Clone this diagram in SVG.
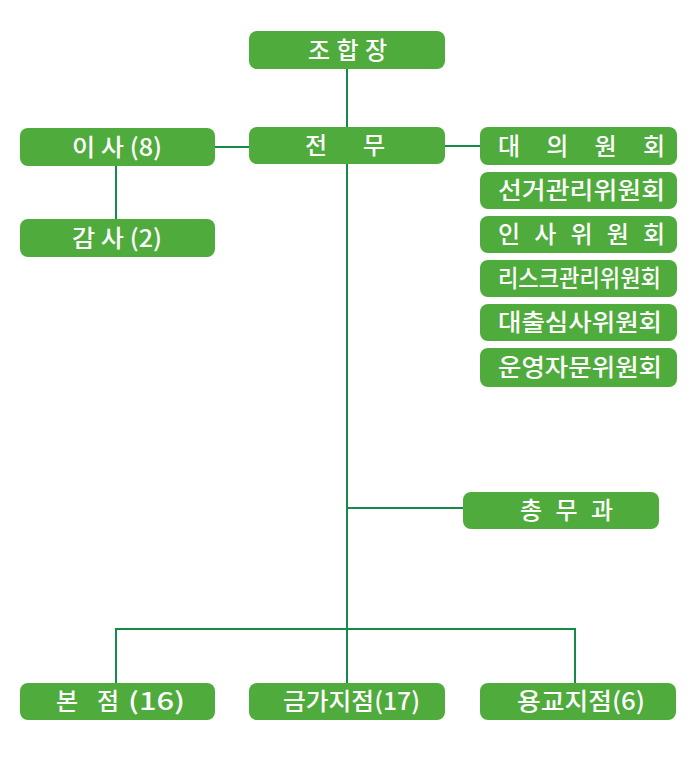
<svg xmlns="http://www.w3.org/2000/svg" width="700" height="757" viewBox="0 0 700 757">
<style>
.box{fill:#4eab3c;}
.t{fill:#ffffff;font-family:"Noto Sans CJK KR","Noto Sans",sans-serif;font-size:24px;font-weight:500;}
.c{fill:none;stroke:#178a4a;stroke-width:2;}
</style>
<rect width="700" height="757" fill="#ffffff"/>
<g id="connectors">
<path class="c" d="M347 69V683"/>
<path class="c" d="M215 147H249"/>
<path class="c" d="M444 146H480"/>
<path class="c" d="M116 166V219"/>
<path class="c" d="M347 508H463"/>
<path class="c" d="M116 683V629H575V683"/>
</g>
<g id="n-johapjang"><rect class="box" x="249" y="31" width="196" height="38" rx="8"/><text class="t" x="308" y="59" textLength="79" lengthAdjust="spacing">조합장</text></g>
<g id="n-jeonmu"><rect class="box" x="249" y="127" width="196" height="37" rx="8"/><text class="t" x="305" y="154" textLength="80" lengthAdjust="spacing">전무</text></g>
<g id="n-isa"><rect class="box" x="20" y="128" width="195" height="38" rx="8"/><text class="t" x="72" y="156" textLength="90" lengthAdjust="spacingAndGlyphs">이 사 (8)</text></g>
<g id="n-gamsa"><rect class="box" x="20" y="219" width="195" height="38" rx="8"/><text class="t" x="72" y="247" textLength="90" lengthAdjust="spacingAndGlyphs">감 사 (2)</text></g>
<g id="n-daeui"><rect class="box" x="480" y="127" width="197" height="38" rx="8"/><text class="t" x="498" y="155" textLength="167" lengthAdjust="spacing">대의원회</text></g>
<g id="n-seongeo"><rect class="box" x="480" y="172" width="197" height="37" rx="8"/><text class="t" x="498" y="199" textLength="167" lengthAdjust="spacingAndGlyphs">선거관리위원회</text></g>
<g id="n-insa"><rect class="box" x="480" y="216" width="197" height="37" rx="8"/><text class="t" x="498" y="243" textLength="167" lengthAdjust="spacing">인사위원회</text></g>
<g id="n-risk"><rect class="box" x="480" y="260" width="197" height="37" rx="8"/><text class="t" x="498" y="287" textLength="163" lengthAdjust="spacingAndGlyphs">리스크관리위원회</text></g>
<g id="n-daechul"><rect class="box" x="480" y="304" width="197" height="37" rx="8"/><text class="t" x="498" y="331" textLength="164" lengthAdjust="spacingAndGlyphs">대출심사위원회</text></g>
<g id="n-unyeong"><rect class="box" x="480" y="348" width="197" height="39" rx="8"/><text class="t" x="498" y="376" textLength="164" lengthAdjust="spacingAndGlyphs">운영자문위원회</text></g>
<g id="n-chongmu"><rect class="box" x="463" y="492" width="196" height="37" rx="8"/><text class="t" x="520" y="519" textLength="93" lengthAdjust="spacing">총무과</text></g>
<g id="n-bonjeom"><rect class="box" x="20" y="683" width="195" height="37" rx="8"/><text class="t" y="710"><tspan x="56">본</tspan><tspan x="97">점</tspan><tspan x="128" textLength="57" lengthAdjust="spacingAndGlyphs">(16)</tspan></text></g>
<g id="n-geumga"><rect class="box" x="249" y="683" width="196" height="37" rx="8"/><text class="t" x="283" y="710" textLength="137" lengthAdjust="spacingAndGlyphs">금가지점(17)</text></g>
<g id="n-yonggyo"><rect class="box" x="480" y="683" width="196" height="37" rx="8"/><text class="t" x="517" y="710" textLength="128" lengthAdjust="spacingAndGlyphs">용교지점(6)</text></g>
</svg>
